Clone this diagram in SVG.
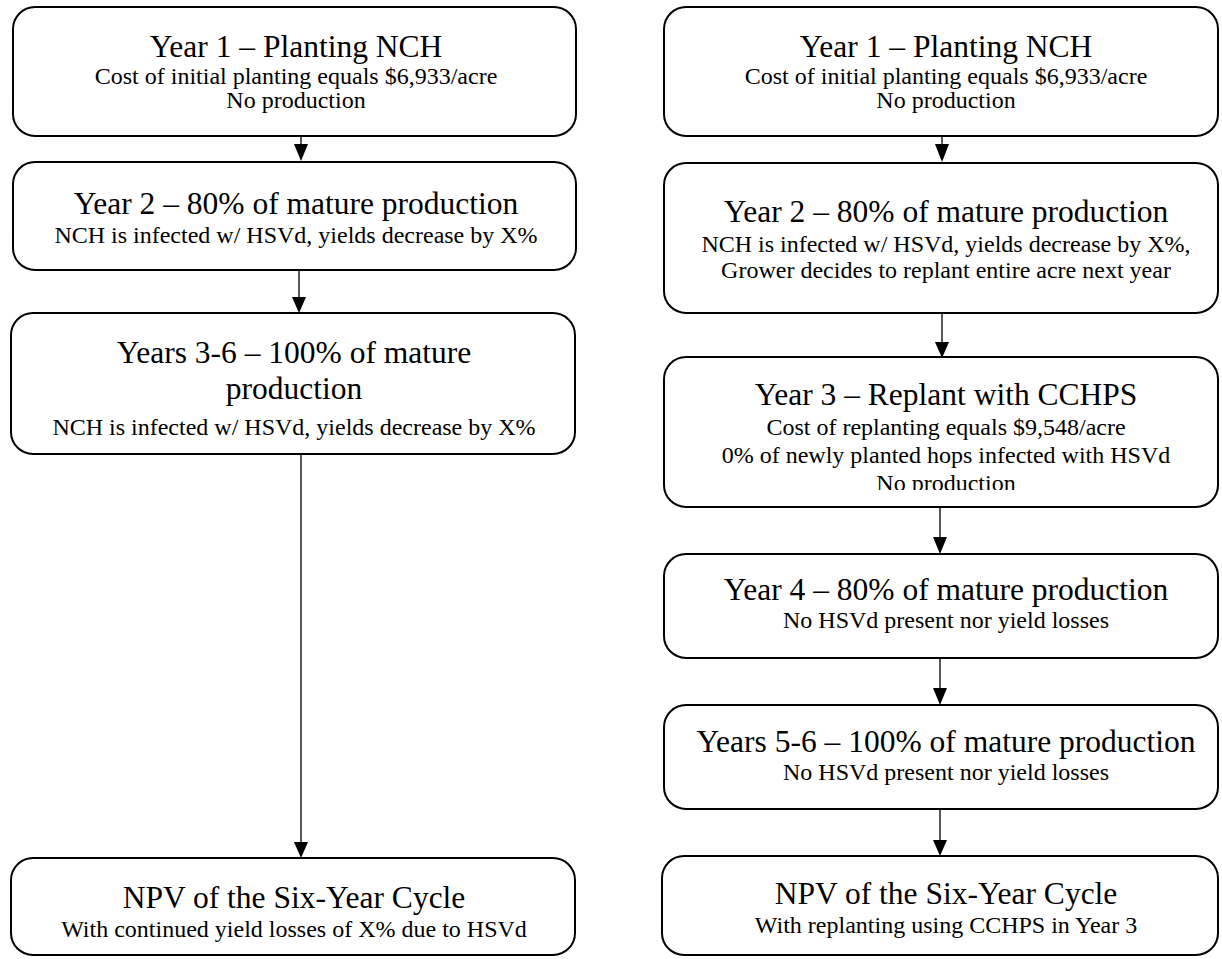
<svg xmlns="http://www.w3.org/2000/svg" width="1222" height="959" viewBox="0 0 1222 959">
<style>
.box{fill:#fff;stroke:#000;stroke-width:2}
.t{font-family:"Liberation Serif","Times New Roman",serif;font-size:31.5px;fill:#000;text-anchor:middle}
.s{font-family:"Liberation Serif","Times New Roman",serif;font-size:24px;fill:#000;text-anchor:middle}
.c{stroke:#000;stroke-width:1.3;fill:none}
.h{fill:#000}
</style>
<defs>
<clipPath id="r3clip"><rect x="660" y="355" width="562" height="135"/></clipPath>
</defs>
<rect width="1222" height="959" fill="#fff"/>
<g id="connectors">
<line class="c" x1="301" y1="136" x2="301" y2="146"/><polygon class="h" points="294,144 308,144 301,161"/>
<line class="c" x1="299" y1="270" x2="299" y2="300"/><polygon class="h" points="292,297 306,297 299,313"/>
<line class="c" x1="301" y1="454" x2="301" y2="845"/><polygon class="h" points="294,842 308,842 301,858"/>
<line class="c" x1="942" y1="136" x2="942" y2="146"/><polygon class="h" points="935,144 949,144 942,162"/>
<line class="c" x1="942" y1="313" x2="942" y2="345"/><polygon class="h" points="935,342 949,342 942,358"/>
<line class="c" x1="940" y1="507" x2="940" y2="540"/><polygon class="h" points="933,537 947,537 940,554"/>
<line class="c" x1="940" y1="658" x2="940" y2="690"/><polygon class="h" points="933,688 947,688 940,705"/>
<line class="c" x1="940" y1="809" x2="940" y2="842"/><polygon class="h" points="933,840 947,840 940,856"/>
</g>
<g id="L1">
<rect class="box" x="13" y="7" width="563" height="129" rx="22"/>
<text class="t" x="296" y="57">Year 1 – Planting NCH</text>
<text class="s" x="296" y="84">Cost of initial planting equals $6,933/acre</text>
<text class="s" x="296" y="108">No production</text>
</g>
<g id="L2">
<rect class="box" x="13" y="162" width="563" height="108" rx="22"/>
<text class="t" x="296" y="214">Year 2 – 80% of mature production</text>
<text class="s" x="296" y="243">NCH is infected w/ HSVd, yields decrease by X%</text>
</g>
<g id="L3">
<rect class="box" x="11" y="313" width="564" height="141" rx="22"/>
<text class="t" x="294" y="363">Years 3-6 – 100% of mature</text>
<text class="t" x="294" y="399">production</text>
<text class="s" x="294" y="435">NCH is infected w/ HSVd, yields decrease by X%</text>
</g>
<g id="L4">
<rect class="box" x="11" y="858" width="564" height="97" rx="22"/>
<text class="t" x="294" y="908">NPV of the Six-Year Cycle</text>
<text class="s" x="294" y="937">With continued yield losses of X% due to HSVd</text>
</g>
<g id="R1">
<rect class="box" x="664" y="7" width="554" height="129" rx="22"/>
<text class="t" x="946" y="57">Year 1 – Planting NCH</text>
<text class="s" x="946" y="84">Cost of initial planting equals $6,933/acre</text>
<text class="s" x="946" y="108">No production</text>
</g>
<g id="R2">
<rect class="box" x="664" y="163" width="554" height="150" rx="22"/>
<text class="t" x="946" y="222">Year 2 – 80% of mature production</text>
<text class="s" x="946" y="252">NCH is infected w/ HSVd, yields decrease by X%,</text>
<text class="s" x="946" y="278">Grower decides to replant entire acre next year</text>
</g>
<g id="R3">
<rect class="box" x="664" y="357" width="554" height="150" rx="22"/>
<g clip-path="url(#r3clip)">
<text class="t" x="946" y="405">Year 3 – Replant with CCHPS</text>
<text class="s" x="946" y="435">Cost of replanting equals $9,548/acre</text>
<text class="s" x="946" y="463">0% of newly planted hops infected with HSVd</text>
<text class="s" x="946" y="491">No production</text>
</g>
</g>
<g id="R4">
<rect class="box" x="664" y="554" width="554" height="104" rx="22"/>
<text class="t" x="946" y="600">Year 4 – 80% of mature production</text>
<text class="s" x="946" y="628">No HSVd present nor yield losses</text>
</g>
<g id="R5">
<rect class="box" x="664" y="705" width="554" height="104" rx="22"/>
<text class="t" x="946" y="752">Years 5-6 – 100% of mature production</text>
<text class="s" x="946" y="780">No HSVd present nor yield losses</text>
</g>
<g id="R6">
<rect class="box" x="662" y="856" width="556" height="99" rx="22"/>
<text class="t" x="946" y="904">NPV of the Six-Year Cycle</text>
<text class="s" x="946" y="933">With replanting using CCHPS in Year 3</text>
</g>
</svg>
